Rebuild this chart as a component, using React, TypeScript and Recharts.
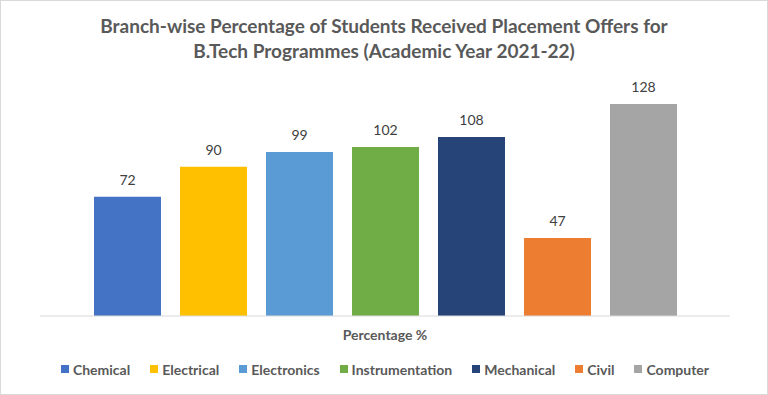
import React from "react";
import { BarChart, Bar, XAxis, YAxis, Legend, LabelList } from "recharts";

const categories = ["Percentage %"];
const branches = ["Chemical", "Electrical", "Electronics", "Instrumentation", "Mechanical", "Civil", "Computer"];
const values = [72, 90, 99, 102, 108, 47, 128];
const colors = ["#4472C4", "#FFC000", "#5B9BD5", "#70AD47", "#264478", "#ED7D31", "#A5A5A5"];
const titleLines = [
  "Branch-wise Percentage of Students Received Placement Offers for",
  "B.Tech Programmes (Academic Year 2021-22)",
];

const data = categories.map((c) => {
  const row: Record<string, string | number> = { name: c };
  branches.forEach((b, i) => {
    row[b] = values[i];
  });
  return row;
});

const FONT = "Lato, 'Open Sans', sans-serif";

const renderLegend = () => {
  return (
    <div style={{ display: "flex", justifyContent: "center", alignItems: "center", height: 20, fontFamily: FONT }}>
      {branches.map((b, i) => (
        <div key={b} style={{ display: "flex", alignItems: "center", marginRight: i < branches.length - 1 ? 20 : 0 }}>
          <span style={{ display: "inline-block", width: 8, height: 8, background: colors[i], marginRight: 4 }} />
          <span style={{ color: "#595959", fontSize: 14, fontWeight: 700 }}>{b}</span>
        </div>
      ))}
    </div>
  );
};

export default function App() {
  return (
    <div
      style={{
        position: "absolute",
        left: 0,
        top: 0,
        width: 768,
        height: 395,
        boxSizing: "border-box",
        border: "1px solid #d9d9d9",
        background: "#fff",
        fontFamily: FONT,
      }}
    >
      <div
        style={{
          position: "absolute",
          left: 0,
          top: 12,
          width: 766,
          textAlign: "center",
          color: "#595959",
          fontWeight: 700,
          fontSize: 19,
          lineHeight: "25px",
        }}
      >
        {titleLines.map((t, i) => (
          <div key={i}>{t}</div>
        ))}
      </div>
      <div style={{ position: "absolute", left: -1, top: -1 }}>
        <BarChart
          width={768}
          height={395}
          data={data}
          margin={{ top: 84, right: 38, bottom: 16, left: 40 }}
          barGap={19}
          barSize={67}
        >
          <XAxis
            dataKey="name"
            axisLine={{ stroke: "#d9d9d9" }}
            tickLine={false}
            tickMargin={8}
            height={43}
            tick={{ fill: "#595959", fontSize: 14, fontWeight: 700, fontFamily: FONT }}
          />
          <YAxis hide domain={[0, 140]} />
          <Legend verticalAlign="bottom" content={renderLegend} />
          {branches.map((b, i) => (
            <Bar key={b} dataKey={b} fill={colors[i]} isAnimationActive={false}>
              <LabelList
                dataKey={b}
                position="top"
                offset={12}
                style={{ fill: "#404040", fontSize: 14, fontFamily: FONT }}
              />
            </Bar>
          ))}
        </BarChart>
      </div>
    </div>
  );
}
